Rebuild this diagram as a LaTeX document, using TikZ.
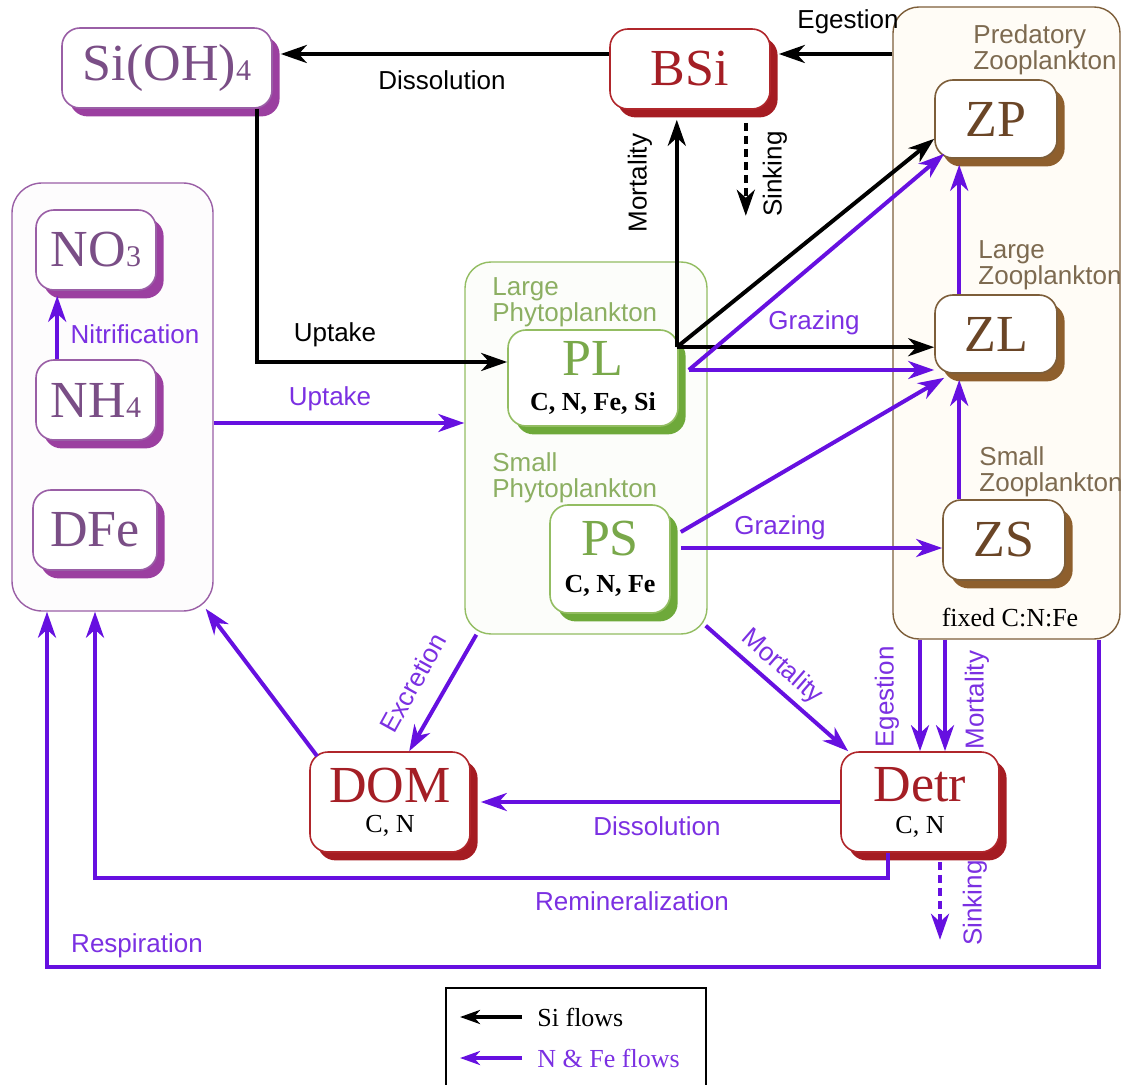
\documentclass[tikz,border=0pt]{standalone}
\usepackage{fontspec}
\setmainfont{Liberation Serif}
\setsansfont{Liberation Sans}
\usetikzlibrary{arrows.meta,positioning,shadows}

\definecolor{nutline}{HTML}{9A5FA6}
\definecolor{nutshade}{HTML}{9B3FA0}
\definecolor{nuttext}{HTML}{7A4E86}
\definecolor{detline}{HTML}{B0262B}
\definecolor{detshade}{HTML}{A51C22}
\definecolor{dettext}{HTML}{A41E25}
\definecolor{phyline}{HTML}{93BD62}
\definecolor{physhade}{HTML}{6EA93A}
\definecolor{phytext}{HTML}{79A84A}
\definecolor{phylab}{HTML}{8CAF62}
\definecolor{zooline}{HTML}{7D5E3A}
\definecolor{zooshade}{HTML}{8E5F2D}
\definecolor{zootext}{HTML}{6A4526}
\definecolor{zoolab}{HTML}{7D6A50}
\definecolor{zoofill}{HTML}{FFFCF6}
\definecolor{flowcol}{HTML}{6610E0}
\definecolor{flowtext}{HTML}{7B30E2}

\newcommand{\bigtx}[1]{{\fontsize{26}{26}\selectfont #1}}
\newcommand{\subtx}[1]{{\fontsize{15}{15}\selectfont #1}}
\newcommand{\elem}[1]{{\fontsize{13}{13}\selectfont\bfseries\color{black}#1}}
\newcommand{\cntx}[1]{{\fontsize{13}{13}\selectfont\color{black}#1}}

\tikzset{
  pool/.style={draw, rounded corners=9pt, fill=white, line width=0.8pt, align=center,
    inner sep=0pt, font=\fontsize{13}{13}\selectfont},
  boxshadow/.style={drop shadow={opacity=1, fill=#1, shadow xshift=3.8pt, shadow yshift=-4.2pt}},
  nutbox/.style={pool, draw=nutline, text=nuttext, boxshadow=nutshade},
  detbox/.style={pool, draw=detline, text=dettext, boxshadow=detshade},
  phybox/.style={pool, draw=phyline, text=phytext, boxshadow=physhade},
  zoobox/.style={pool, draw=zooline, text=zootext, boxshadow=zooshade},
  group/.style={draw, rounded corners=13pt, line width=0.7pt, inner sep=0pt},
  grplbl/.style={font=\sffamily\fontsize{13}{13}\selectfont, align=left, inner sep=0pt, anchor=north west},
  lbl/.style={font=\sffamily\fontsize{13}{13}\selectfont, inner sep=0pt},
  silbl/.style={lbl, text=black},
  nlbl/.style={lbl, text=flowtext},
  siflow/.style={draw=black, line width=2pt, -{Stealth[length=13pt,width=9pt,inset=4pt]}},
  nflow/.style={siflow, draw=flowcol},
  sinkdash/.style={dash pattern=on 4pt off 2.5pt}
}

\begin{document}
\begin{tikzpicture}[x=0.5pt,y=-0.5pt]
\useasboundingbox (0,0) rectangle (1124,1085);

% groups
\node[group, draw=nutline, fill=nutline!2, rounded corners=15pt, minimum width=100.5pt, minimum height=214pt] (nut) at (112.5,397) {};
\node[group, draw=phyline, fill=phyline!3, minimum width=121pt, minimum height=186pt] (phy) at (586,448) {};
\node[group, draw=zooline, fill=zoofill, minimum width=113.5pt, minimum height=316pt] (zoo) at (1006.5,323) {};

\node[grplbl, text=zoolab] (zpname) at (973,24) {Predatory\\Zooplankton};
\node[grplbl, text=zoolab] (zlname) at (978,240) {Large\\Zooplankton};
\node[grplbl, text=zoolab] (zsname) at (979,446) {Small\\Zooplankton};
\node[grplbl, text=phylab] (plname) at (492,277) {Large\\Phytoplankton};
\node[grplbl, text=phylab] (psname) at (492,452) {Small\\Phytoplankton};
\node[font=\fontsize{13}{13}\selectfont, inner sep=0pt] (fixed) at (1010,618) {fixed C:N:Fe};

% pools
\node[nutbox, minimum width=105pt, minimum height=40pt] (sioh) at (167,68) {\bigtx{Si(OH)\subtx{4}}};
\node[detbox, minimum width=80pt, minimum height=40pt] (bsi) at (690,69) {\bigtx{BSi}};
\node[nutbox, minimum width=60pt, minimum height=40pt] (no3) at (96,250) {\bigtx{NO\subtx{3}}};
\node[nutbox, minimum width=60pt, minimum height=40pt] (nh4) at (96,400) {\bigtx{NH\subtx{4}}};
\node[nutbox, minimum width=62pt, minimum height=40pt] (dfe) at (95,530) {\bigtx{DFe}};
\node[phybox, minimum width=85pt, minimum height=48pt] (pl) at (593,378) {\bigtx{PL}\\[4.5pt]\elem{C, N, Fe, Si}};
\node[phybox, minimum width=60pt, minimum height=54pt] (ps) at (610,559) {\bigtx{PS}\\[5.5pt]\elem{C, N, Fe}};
\node[zoobox, minimum width=61pt, minimum height=39pt] (zp) at (996,119) {\bigtx{ZP}};
\node[zoobox, minimum width=61pt, minimum height=39pt] (zl) at (996,334) {\bigtx{ZL}};
\node[zoobox, minimum width=61pt, minimum height=40pt] (zs) at (1004,540) {\bigtx{ZS}};
\node[detbox, minimum width=80pt, minimum height=50pt] (dom) at (390,802) {\bigtx{DOM}\\[2pt]\cntx{C, N}};
\node[detbox, minimum width=79pt, minimum height=50pt] (detr) at (920,802) {\bigtx{Detr}\\[3pt]\cntx{C, N}};

% Si flows
\coordinate (dissA) at ([yshift=7.5pt]bsi.west);
\draw[siflow, shorten >=4pt] (dissA) -- (dissA -| sioh.east);
\draw[siflow, shorten >=4pt] (dissA -| zoo.west) -- (dissA -| bsi.east);
\coordinate (siup) at ([xshift=-8pt]sioh.south east);
\coordinate (plin) at ([yshift=8pt]pl.west);
\draw[siflow] (siup) |- (plin);
\coordinate (plsi) at ([xshift=-1pt,yshift=-9pt]pl.north east);
\draw[siflow, shorten >=5pt] (plsi) -- (plsi |- bsi.south);
\coordinate (sinkA) at ([xshift=-12.5pt,yshift=-6.5pt]bsi.south east);
\coordinate (bsisink) at ([yshift=-46.5pt]sinkA);
\draw[siflow, sinkdash] (sinkA) -- (bsisink);
\coordinate (zpsi) at ([yshift=10pt]zp.south west);
\draw[siflow] (plsi) -- (zpsi);
\draw[siflow] (plsi) -- (plsi -| zl.west);

% N & Fe flows
\coordinate (nup) at ([yshift=-13pt]nut.east);
\draw[nflow] (nup) -- (nup -| phy.west);
\coordinate (nitA) at ([xshift=11pt]nh4.north west);
\draw[nflow, shorten >=2.5pt] (nitA) -- (nitA |- no3.south);
\coordinate (pln) at ([xshift=5pt,yshift=4pt]pl.east);
\coordinate (zpn) at ([xshift=5pt,yshift=2.5pt]zp.south west);
\draw[nflow] (pln) -- (zpn);
\draw[nflow] (pln) -- (pln -| zl.south west);
\coordinate (psz) at ([xshift=5pt,yshift=13.5pt]ps.east);
\coordinate (zln) at ([xshift=5pt,yshift=-2pt]zl.south west);
\draw[nflow] (psz) -- (zln);
\coordinate (pss) at ([xshift=5pt,yshift=5.5pt]ps.east);
\draw[nflow] (pss) -- (pss -| zs.west);
\coordinate (zsup) at ([xshift=8.5pt]zs.north west);
\draw[nflow, shorten >=3pt] (zsup) -- (zsup |- zl.south);
\coordinate (zlup) at ([xshift=12.5pt]zl.north west);
\draw[nflow, shorten >=3pt] (zlup) -- (zlup |- zp.south);
\coordinate (excA) at ([xshift=6pt]phy.south west);
\coordinate (excB) at ([xshift=50pt]dom.north west);
\draw[nflow] (excA) -- (excB);
\coordinate (mortA) at ([xshift=-1pt,yshift=4.5pt]phy.south east);
\coordinate (mortB) at ([xshift=4pt]detr.north west);
\draw[nflow] (mortA) -- (mortB);
\coordinate (domA) at ([xshift=4pt,yshift=-2.5pt]dom.north west);
\coordinate (nutB) at ([xshift=-4pt,yshift=1.5pt]nut.south east);
\draw[nflow] (domA) -- (nutB);
\draw[nflow, shorten >=5pt] (detr.west) -- (detr.west -| dom.east);
\draw[nflow] (detr.north |- zoo.south) -- (detr.north);
\coordinate (moB) at ([xshift=12.5pt]detr.north);
\draw[nflow] (moB |- zoo.south) -- (moB);
\coordinate (remA) at ([xshift=-16pt]detr.south);
\coordinate (rem) at (95,878);
\draw[nflow] (remA) |- (rem) -- (rem |- nut.south);
\coordinate (sinkB) at ([xshift=10pt,yshift=-4.5pt]detr.south);
\coordinate (detrsink) at ([yshift=-39pt]sinkB);
\draw[nflow, sinkdash] (sinkB) -- (detrsink);
\coordinate (respA) at ([xshift=-11pt]zoo.south east);
\coordinate (resp) at (47,967);
\draw[nflow] (respA) |- (resp) -- (resp |- nut.south);

% flow labels
\node[silbl] (lbdiss) at (442,80) {Dissolution};
\node[silbl] (lbeges) at (848,22) {Egestion};
\node[silbl] (lbupsi) at (335,335) {Uptake};
\node[nlbl] (lbupn) at (330,399) {Uptake};
\node[nlbl] (lbnitr) at (135,334) {Nitrification};
\node[silbl, rotate=90] (lbmortsi) at (640,183) {Mortality};
\node[silbl, rotate=90] (lbsinksi) at (775,174) {Sinking};
\node[nlbl] (lbgraz1) at (814,323) {Grazing};
\node[nlbl] (lbgraz2) at (780,528) {Grazing};
\node[nlbl, rotate=61] (lbexcr) at (413,683) {Excretion};
\node[nlbl, rotate=-41] (lbmortp) at (782,667) {Mortality};
\node[nlbl] (lbdissn) at (657,826) {Dissolution};
\node[nlbl, rotate=90] (lbegesz) at (887,697) {Egestion};
\node[nlbl, rotate=90] (lbmortz) at (977,700) {Mortality};
\node[nlbl] (lbremin) at (632,901) {Remineralization};
\node[nlbl, rotate=90] (lbsinkd) at (975,903) {Sinking};
\node[nlbl] (lbresp) at (137,946) {Respiration};

% legend
\draw[line width=0.8pt] (446,1095) -- (446,988) -- (706,988) -- (706,1095);
\coordinate (lgsi) at (522,1017);
\coordinate (lgsiend) at (460,1017);
\draw[siflow, line width=1.8pt, -{Stealth[length=10pt,width=7pt,inset=3pt]}] (lgsi) -- (lgsiend);
\coordinate (lgn) at (522,1058);
\coordinate (lgnend) at (460,1058);
\draw[nflow, line width=1.8pt, -{Stealth[length=10pt,width=7pt,inset=3pt]}] (lgn) -- (lgnend);
\node[anchor=west, font=\fontsize{13}{13}\selectfont, inner sep=0pt] (lgsitx) at (537,1017) {Si flows};
\node[anchor=west, font=\fontsize{13}{13}\selectfont, inner sep=0pt, text=flowtext] (lgntx) at (537,1058) {N \& Fe flows};
\end{tikzpicture}
\end{document}
